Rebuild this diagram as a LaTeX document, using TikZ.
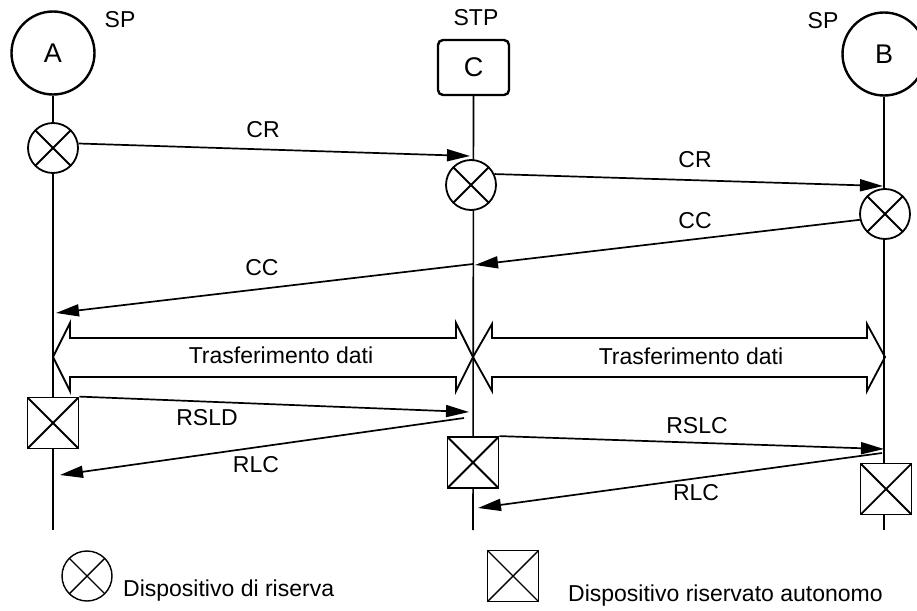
\documentclass[tikz,border=0pt]{standalone}
\usepackage{fontspec}
\setmainfont{Liberation Sans}
\usetikzlibrary{arrows.meta}
\begin{document}
\begin{tikzpicture}[x=1pt,y=-1pt,
  font=\fontsize{23}{27}\selectfont,
  station/.style={circle, draw, line width=2.4pt, minimum size=83pt, inner sep=0pt,
    font=\fontsize{27}{30}\selectfont},
  transfer/.style={rectangle, draw, line width=2.4pt, rounded corners=5pt,
    minimum width=71pt, minimum height=55pt, inner sep=0pt,
    font=\fontsize{27}{30}\selectfont},
  crossmark/.style={draw, fill=white, line width=#1, inner sep=0pt,
    path picture={\draw[line width=#1]
      (path picture bounding box.north west) -- (path picture bounding box.south east)
      (path picture bounding box.north east) -- (path picture bounding box.south west);}},
  reserve/.style={crossmark=#1, circle, minimum size=50pt},
  reserve/.default=1.8pt,
  autonomous/.style={crossmark=#1, rectangle, minimum size=51pt},
  autonomous/.default=1.8pt,
  lifeline/.style={line width=1.6pt},
  msg/.style={line width=1.7pt, -{Triangle[length=23pt,width=12pt]}},
  band/.style={line width=1.8pt, line join=miter},
  lbl/.style={anchor=base, inner sep=0pt},
]
\clip (0,0) rectangle (917,610);
\fill[white] (0,0) rectangle (917,610);

% end points
\node[station] (A) at (53,53) {A};
\node[transfer] (C) at (473.5,67.5) {C};
\node[station] (B) at (884,54) {B};
\node[lbl] (spA) at (120,28) {SP};
\node[lbl] (stp) at (476,26) {STP};
\node[lbl] (spB) at (823,29) {SP};

\coordinate (Aend) at (53,530);
\coordinate (Cend) at (473,530);
\coordinate (Bend) at (884,530);
\draw[lifeline] (A.south) -- (Aend);
\draw[lifeline] (C.south) -- (Cend);
\draw[lifeline] (B.south) -- (Bend);

% reserve devices
\node[reserve] (xa) at (53,148) {};
\node[reserve] (xc) at (471,185) {};
\node[reserve] (xb) at (885,214) {};

% autonomous reserved devices
\node[autonomous] (sqa) at (53,423) {};
\node[autonomous] (sqc) at (473,462.5) {};
\node[autonomous] (sqb) at (886,489) {};

% message end points on the lifelines
\coordinate (cr1) at (470,156);
\coordinate (cr2) at (883,186);
\coordinate (cc1) at (475,265);
\coordinate (cc2s) at (473,264);
\coordinate (cc2) at (56,313);
\coordinate (rsld) at (469,412);
\coordinate (rlc1s) at (464,418);
\coordinate (rlc1) at (60,475);
\coordinate (rslc) at (884,449);
\coordinate (rlc2s) at (882,453);
\coordinate (rlc2) at (478,508);

\draw[msg] (xa.10) -- (cr1);
\draw[msg] (xc.25) -- (cr2);
\draw[msg] (xb.193) -- (cc1);
\draw[msg] (cc2s) -- (cc2);
\draw[msg] (sqa.north east) -- (rsld);
\draw[msg] (rlc1s) -- (rlc1);
\draw[msg] (sqc.north east) -- (rslc);
\draw[msg] (rlc2s) -- (rlc2);

\node[lbl] (lcr1) at (263,137) {CR};
\node[lbl] (lcr2) at (695,167) {CR};
\node[lbl] (lcc1) at (695,228) {CC};
\node[lbl] (lcc2) at (262,275) {CC};
\node[lbl] (lrsld) at (207,425) {RSLD};
\node[lbl] (lrlc1) at (256,472) {RLC};
\node[lbl] (lrslc) at (697,433) {RSLC};
\node[lbl] (lrlc2) at (696,500) {RLC};

% data transfer bands
\draw[band] (53,357) -- (70,323) -- (70,338) -- (456,338) -- (456,323) -- (473,357)
  -- (456,391) -- (456,377) -- (70,377) -- (70,391) -- cycle;
\draw[band] (473,357) -- (492,324) -- (492,338) -- (867,338) -- (867,324) -- (885,357)
  -- (867,391) -- (867,377) -- (492,377) -- (492,391) -- cycle;
\node[lbl] (td1) at (281,363) {Trasferimento dati};
\node[lbl] (td2) at (691,364) {Trasferimento dati};

% legend
\node[reserve=1.4pt] (legx) at (87,576) {};
\node[lbl, anchor=base west] (legxt) at (123,596) {Dispositivo di riserva};
\node[autonomous=1.4pt] (legs) at (513,576) {};
\node[lbl, anchor=base west] (legst) at (568,601) {Dispositivo riservato autonomo};
\end{tikzpicture}
\end{document}
